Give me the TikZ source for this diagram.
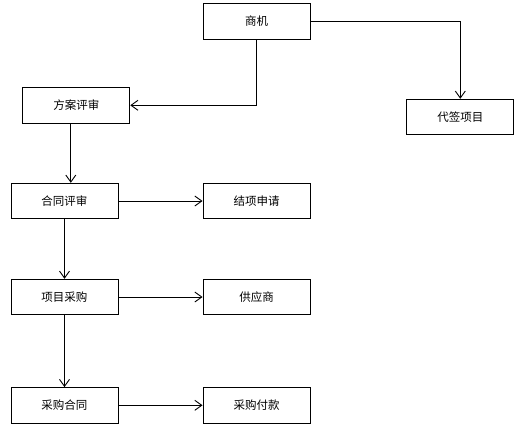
\documentclass[tikz,border=0pt]{standalone}
\usepackage{fontspec}
\newfontfamily\cjk{Noto Sans CJK SC}
\usetikzlibrary{arrows.meta}
\begin{document}
\begin{tikzpicture}[x=1pt,y=-1pt,
  box/.style={draw,line width=0.9pt,minimum width=107pt,minimum height=35.5pt,inner sep=0pt,font=\cjk\fontsize{11.5}{13}\selectfont},
  arr/.style={draw,line width=0.9pt,-{Straight Barb[length=7pt,width=10pt,line width=0.9pt]}}]
\useasboundingbox[fill=white] (0,0) rectangle (523,434);
\node[box] (shangji) at (256.5,21.3) {商机};
\node[box] (daiqian) at (460.3,117) {代签项目};
\node[box] (fangan) at (76.3,105.3) {方案评审};
\node[box] (hetong) at (64.5,201) {合同评审};
\node[box] (jiexiang) at (256.5,201) {结项申请};
\node[box] (xiangmu) at (64.5,297) {项目采购};
\node[box] (gongying) at (256.5,297) {供应商};
\node[box] (caigou) at (64.5,405.3) {采购合同};
\node[box] (fukuan) at (256.5,405.3) {采购付款};
\draw[arr] (shangji.east) -| (daiqian.north);
\draw[arr] (shangji.south) |- (fangan.east);
\draw[arr] ([xshift=-5.5pt]fangan.south) -- ([xshift=-5.5pt]fangan.south |- hetong.north);
\draw[arr] (hetong.east) -- (jiexiang.west);
\draw[arr] (hetong.south) -- (xiangmu.north);
\draw[arr] (xiangmu.east) -- (gongying.west);
\draw[arr] (xiangmu.south) -- (caigou.north);
\draw[arr] (caigou.east) -- (fukuan.west);
\end{tikzpicture}
\end{document}
